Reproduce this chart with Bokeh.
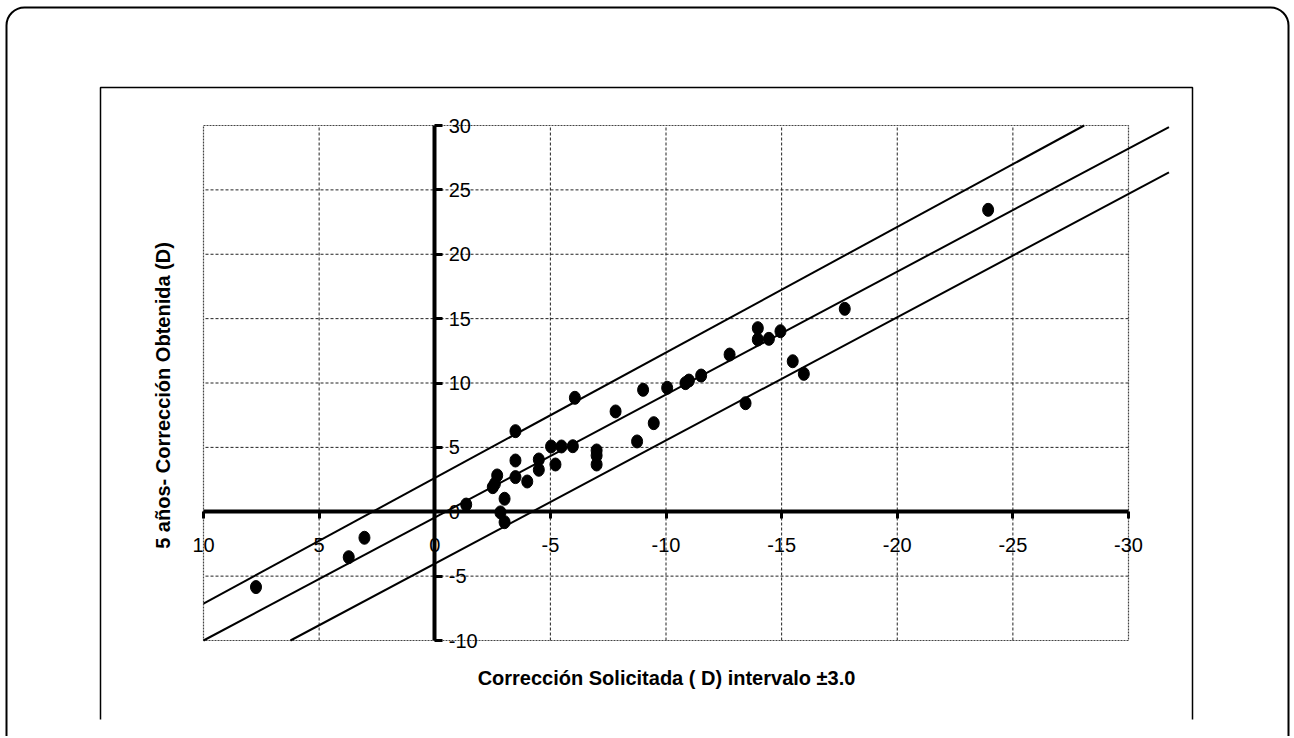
import numpy as np
from bokeh.plotting import figure
from bokeh.models import (Range1d, LinearAxis, FixedTicker, Label, BoxAnnotation,
                          ColumnDataSource)
from bokeh.embed import file_html
from bokeh.resources import INLINE

# ---------------- data ----------------
# Corrección solicitada (x, D) vs corrección obtenida a 5 años (y, D)
sol_x = [7.73, 3.72, 3.04, -1.36, -2.70, -2.60, -2.51, -3.02, -2.84, -3.02,
         -3.49, -3.49, -3.49, -4.00, -4.50, -4.50, -5.03, -5.22, -5.48, -5.97,
         -6.06, -7.00, -7.00, -7.00, -7.82, -8.75, -9.01, -9.47, -10.05, -10.84,
         -10.99, -11.52, -12.75, -13.44, -13.97, -13.97, -14.45, -14.95, -15.48,
         -15.96, -17.73, -23.93]
obt_y = [-5.85, -3.53, -2.02, 0.56, 2.82, 2.17, 1.91, 1.01, -0.05, -0.81,
         6.26, 3.98, 2.69, 2.35, 4.06, 3.26, 5.07, 3.67, 5.07, 5.09,
         8.85, 4.76, 4.37, 3.67, 7.79, 5.46, 9.47, 6.88, 9.63, 9.99,
         10.19, 10.58, 12.21, 8.43, 14.26, 13.38, 13.43, 14.02, 11.69,
         10.71, 15.76, 23.45]

x_ticks = [10, 5, 0, -5, -10, -15, -20, -25, -30]
x_tick_labels = ["10", "5", "0", "-5", "-10", "-15", "-20", "-25", "-30"]
y_ticks = [-10, -5, 0, 5, 10, 15, 20, 25, 30]
y_tick_labels = ["-10", "-5", "0", "5", "10", "15", "20", "25", "30"]

# reference line and ±3.0 D interval lines (y = m*x + b)
band_slopes = [-0.975, -0.955, -0.957]
band_intercepts = [2.62, -0.45, -4.03]
band_x_limit = -31.75

x_title = "Corrección Solicitada ( D) intervalo ±3.0"
y_title = "5 años- Corrección Obtenida (D)"

# ---------------- layout ----------------
W, H = 1290, 736
PX_X10, PX_PER_X = 203.0, 23.125      # canvas px of x=10 and px per unit
PY_Y30, PX_PER_Y = 125.0, 12.875      # canvas px of y=30 and px per unit


def dx(px):
    return 10 - (px - PX_X10) / PX_PER_X


def dy(py):
    return 30 - (py - PY_Y30) / PX_PER_Y


p = figure(width=W, height=H, output_backend="svg", toolbar_location=None,
           x_range=Range1d(dx(0), dx(W)), y_range=Range1d(dy(H), dy(0)),
           x_axis_location=None, y_axis_location=None,
           min_border=0, min_border_left=0, min_border_right=0,
           min_border_top=0, min_border_bottom=0)
p.grid.visible = False
p.outline_line_color = None
p.background_fill_color = "white"
p.border_fill_color = "white"

xmin, xmax = min(x_ticks), max(x_ticks)
ymin, ymax = min(y_ticks), max(y_ticks)

# grid (dashed)
gx = [t for t in x_ticks if t not in (xmin, xmax, 0)]
gy = [t for t in y_ticks if t not in (ymin, ymax, 0)]
p.segment(x0=gx, y0=[ymin] * len(gx), x1=gx, y1=[ymax] * len(gx),
          line_color="#222222", line_width=1, line_dash="3 2")
p.segment(x0=[xmin] * len(gy), y0=gy, x1=[xmax] * len(gy), y1=gy,
          line_color="#222222", line_width=1, line_dash="3 2")
# plot-area border
p.quad(left=[xmin], right=[xmax], bottom=[ymin], top=[ymax],
       fill_color=None, line_color="#444444", line_width=1.2, line_dash="2 1")

# band lines
xs, ys = [], []
for m, b in zip(band_slopes, band_intercepts):
    x_hi = min(xmax, (ymin - b) / m)
    x_lo = max(band_x_limit, (ymax - b) / m)
    xs.append([x_hi, x_lo])
    ys.append([m * x_hi + b, m * x_lo + b])
p.multi_line(xs=xs, ys=ys, line_color="black", line_width=2)

# points
src = ColumnDataSource(dict(x=sol_x, y=obt_y))
p.ellipse(x="x", y="y", width=11, height=13, width_units="screen",
          height_units="screen", source=src, fill_color="black", line_color="black")

# crossing axes
font = "Liberation Sans"
xaxis = LinearAxis(fixed_location=0, bounds=(xmin, xmax),
                   ticker=FixedTicker(ticks=x_ticks),
                   major_label_overrides=dict(zip(x_ticks, x_tick_labels)))
yaxis = LinearAxis(fixed_location=0, bounds=(ymin, ymax),
                   ticker=FixedTicker(ticks=y_ticks),
                   major_label_overrides=dict(zip(y_ticks, y_tick_labels)))
for ax in (xaxis, yaxis):
    ax.axis_line_width = 4
    ax.axis_line_color = "black"
    ax.major_tick_line_width = 3
    ax.major_tick_line_color = "black"
    ax.major_tick_in = 0
    ax.minor_tick_line_color = None
    ax.major_label_text_font = font
    ax.major_label_text_font_size = "20px"
    ax.major_label_text_color = "black"
xaxis.major_tick_out = 7
xaxis.major_label_standoff = 19
yaxis.major_tick_out = 8
yaxis.major_label_standoff = 6
p.add_layout(xaxis, "below")
p.add_layout(yaxis, "right")

# axis titles
p.add_layout(Label(x=dx(666), y=dy(677), text=x_title, text_font=font,
                   text_font_style="bold", text_font_size="20px", text_color="black",
                   text_align="center", text_baseline="middle"))
p.add_layout(Label(x=dx(162), y=dy(395), text=y_title, text_font=font,
                   text_font_style="bold", text_font_size="20px", text_color="black",
                   text_align="center", text_baseline="middle", angle=np.pi / 2))

# inner chart box (open at bottom)
p.line(x=[dx(100), dx(100), dx(1192), dx(1192)], y=[dy(719), dy(87), dy(87), dy(719)],
       line_color="black", line_width=1.5)

# outer rounded border
p.add_layout(BoxAnnotation(left=dx(6), right=dx(1288), top=dy(7), bottom=dy(H + 40),
                           fill_color=None, fill_alpha=0, line_color="black",
                           line_alpha=1, line_width=2, border_radius=18))

open("out.html", "w").write(file_html(p, INLINE))
